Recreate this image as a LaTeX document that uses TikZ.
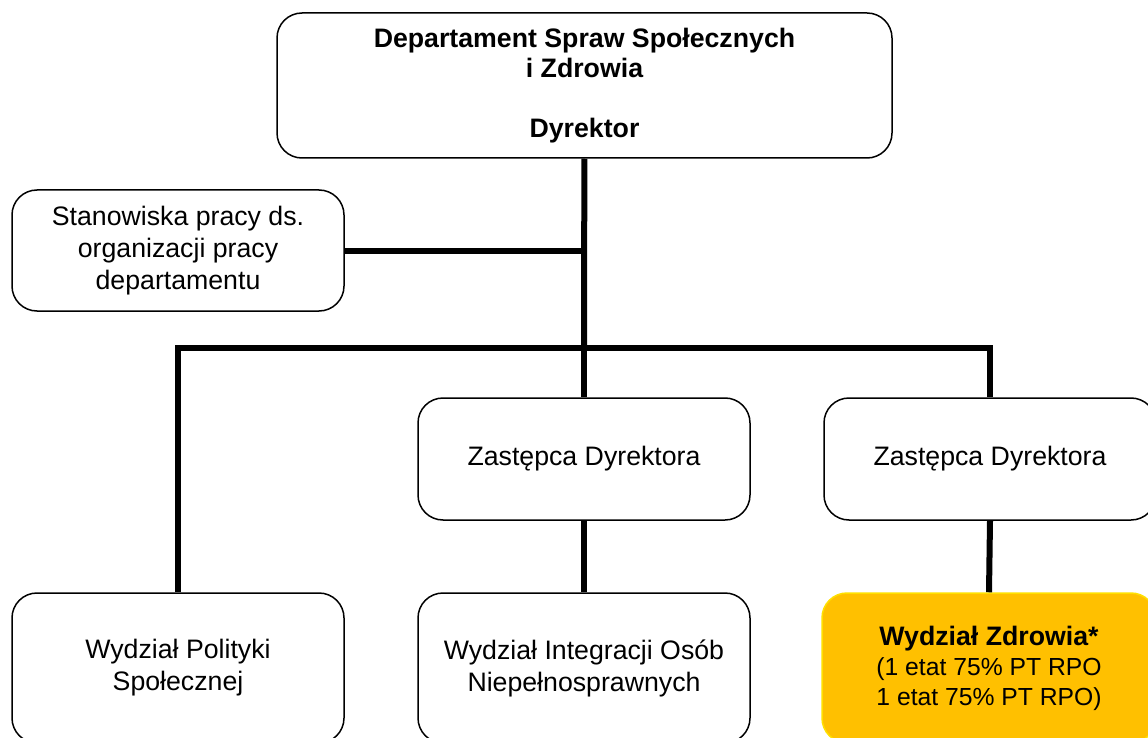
\documentclass[tikz,border=0pt]{standalone}
\usepackage{fontspec}
\setmainfont{Liberation Sans}
\usepackage{tikz}
\definecolor{zdrowiefill}{HTML}{FFC000}
\definecolor{zdrowiedraw}{HTML}{FFE000}

\begin{document}
\begin{tikzpicture}[x=1pt,y=-1pt,
		box/.style={draw=black,line width=1.5pt,rounded corners=25pt,fill=white,align=center,inner sep=0pt,
			minimum width=332pt,font=\fontsize{26.7}{32}\selectfont},
		link/.style={line width=6pt}]
		\useasboundingbox (0,0) rectangle (1148,738);
		\clip (0,0) rectangle (1148,738);
		\coordinate (BUS) at (584,348);
		\node[box,minimum width=615pt,minimum height=145pt,font=\fontsize{26.7}{30}\selectfont\bfseries] (DEP) at (584.5,85.5)
			{Departament Spraw Społecznych\\i Zdrowia\\~\\Dyrektor};
		\node[box,minimum height=121pt] (ORG) at (178,250.5) {Stanowiska pracy ds.\\organizacji pracy\\departamentu};
		\node[box,minimum height=122pt] (ZAS1) at (584,459) {Zastępca Dyrektora};
		\node[box,minimum height=122pt] (ZAS2) at (990,459) {Zastępca Dyrektora};
		\node[box,minimum height=150pt] (WPOL) at (178,668) {Wydział Polityki\\Społecznej};
		\node[box,minimum height=150pt] (WINT) at (584,668) {Wydział Integracji Osób\\Niepełnosprawnych};
		\node[box,minimum height=150pt,minimum width=334pt,fill=zdrowiefill,draw=zdrowiedraw,font=\fontsize{24.7}{30}\selectfont] (WZDR) at (989,668)
			{\fontsize{26.7}{30}\selectfont\textbf{Wydział Zdrowia*}\\(1 etat 75\% PT RPO\\1 etat 75\% PT RPO)};

		\draw[link] (DEP) -- (BUS);
		\draw[link] (ORG.east) -- (ORG.east -| DEP.south);
		\draw[link] (WPOL.north) |- (BUS) -| (ZAS2.north);
		\draw[link] (BUS) -- (ZAS1.north);
		\draw[link] (ZAS1.south) -- (WINT.north);
		\draw[link] (ZAS2.south) -- (WZDR.north);
	    \end{tikzpicture}
\end{document}
